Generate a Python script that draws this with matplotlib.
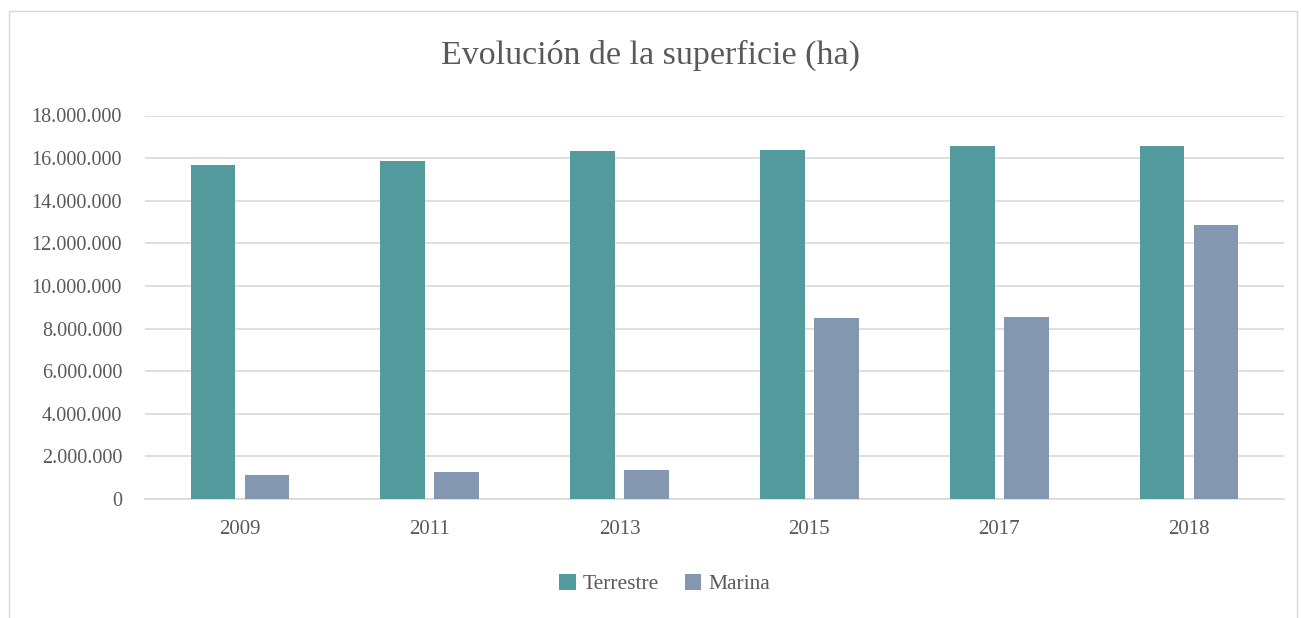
import matplotlib
matplotlib.use("Agg")
import matplotlib.pyplot as plt
import numpy as np
from matplotlib.patches import Rectangle

years = ["2009", "2011", "2013", "2015", "2017", "2018"]
terrestre = [15670000, 15860000, 16340000, 16400000, 16590000, 16590000]
marina = [1110000, 1260000, 1360000, 8510000, 8520000, 12860000]
yticks = [0, 2000000, 4000000, 6000000, 8000000, 10000000, 12000000, 14000000, 16000000, 18000000]
ytick_labels = ["0", "2.000.000", "4.000.000", "6.000.000", "8.000.000", "10.000.000",
                "12.000.000", "14.000.000", "16.000.000", "18.000.000"]

plt.rcParams['font.family'] = ['Liberation Serif', 'DejaVu Serif']
txt = "#595959"
c_terr = "#529A9B"
c_mar = "#8497B0"

W, H = 1301, 618
fig = plt.figure(figsize=(W/100, H/100), dpi=100)
fig.patches.append(Rectangle((9/W, -0.1), (1297-9)/W, 1.1 - 11/H, transform=fig.transFigure,
                             fill=False, edgecolor="#D9D9D9", linewidth=1.0))

ax = fig.add_axes([145/W, 1-499/H, (1284-145)/W, (499-115.5)/H])
x = np.arange(len(years))
bw = 0.235
ax.bar(x - 0.142, terrestre, bw, color=c_terr, label="Terrestre", zorder=3)
ax.bar(x + 0.142, marina, bw, color=c_mar, label="Marina", zorder=3)

ax.set_xlim(-0.5, len(years) - 0.5)
ax.set_ylim(0, 18000000)
ax.set_yticks(yticks)
ax.set_yticklabels(ytick_labels)
ax.set_xticks(x)
ax.set_xticklabels(years)
ax.tick_params(axis='both', length=0, colors=txt)
ax.tick_params(axis='y', pad=16.5, labelsize=14.5)
ax.tick_params(axis='x', pad=15, labelsize=15)
ax.grid(axis='y', color="#D9D9D9", linewidth=1.2, zorder=0)
for s in ["top", "right", "left"]:
    ax.spines[s].set_visible(False)
ax.spines["bottom"].set_color("#D9D9D9")
ax.spines["bottom"].set_linewidth(1.2)

fig.text(0.5, 1-55/H, "Evolución de la superficie (ha)", ha="center", va="center",
         fontsize=24.5, color=txt)

fig.legend(loc="center", bbox_to_anchor=(665/W, 1-584/H), ncol=2, frameon=False,
           fontsize=15.5, labelcolor=txt, handlelength=0.75, handleheight=0.75,
           handletextpad=0.35, columnspacing=1.2)

fig.savefig("out.png", dpi=100)
